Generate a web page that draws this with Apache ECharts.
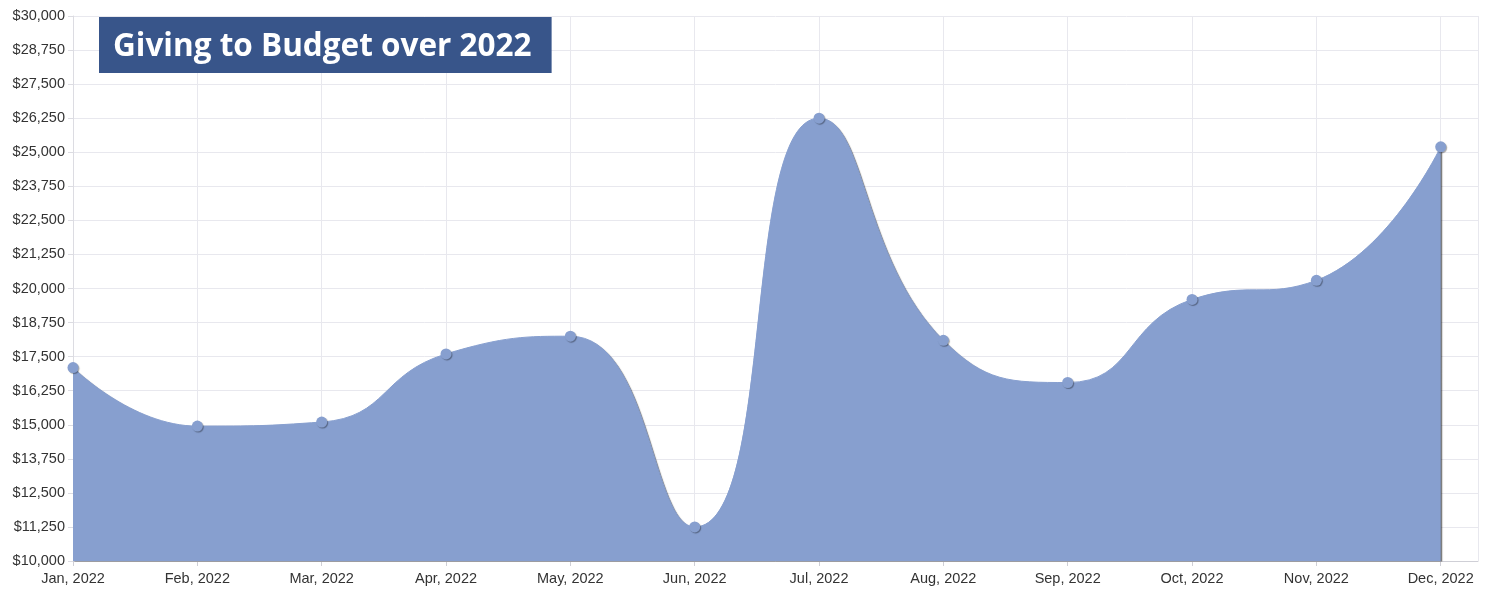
<!DOCTYPE html>
<html>
<head>
	<meta charset="utf-8">
	<title>Giving to Budget over 2022</title>
	<script src="https://cdnjs.cloudflare.com/ajax/libs/echarts/6.0.0/echarts.min.js"></script>
	<style>
		body { margin: 0; background: #fff; }
	</style>
</head>
<body>
	<div id="main" style="width: 1494px;height:590px;"></div>
	<script type="text/javascript">
	var months = ['Jan, 2022', 'Feb, 2022', 'Mar, 2022', 'Apr, 2022', 'May, 2022', 'Jun, 2022',
		'Jul, 2022', 'Aug, 2022', 'Sep, 2022', 'Oct, 2022', 'Nov, 2022', 'Dec, 2022'];
	var giving = [17100, 14950, 15100, 17600, 18250, 11250, 26250, 18100, 16550, 19600, 20300, 25200];

	var points = [];
	giving.forEach(function (v, i) {
		points.push([i, v]);
	});

	var myChart = echarts.init(document.getElementById('main'));

	var option = {
		animation: false,
		title: {
			text: 'Giving to Budget over 2022',
			left: 99,
			top: 17,
			backgroundColor: '#38558a',
			padding: [13, 20, 8, 14],
			textStyle: {
				color: '#fff',
				fontFamily: 'Open Sans',
				fontWeight: 'bold',
				fontSize: 31.5,
				lineHeight: 35
			}
		},
		grid: {
			left: 73,
			right: 16,
			top: 16,
			bottom: 29
		},
		xAxis: {
			type: 'value',
			min: 0,
			max: 11.3,
			interval: 1,
			axisLine: { show: true, lineStyle: { color: '#cfcfd6' } },
			axisTick: { show: true, length: 5, lineStyle: { color: '#cfcfd6' } },
			axisLabel: {
				color: '#333',
				fontFamily: 'Arial',
				fontSize: 14.5,
				margin: 10,
				showMaxLabel: false,
				formatter: function (v) {
					return months[v] || '';
				}
			},
			splitLine: { show: true, lineStyle: { color: '#e8e8ee' } }
		},
		yAxis: {
			type: 'value',
			min: 10000,
			max: 30000,
			interval: 1250,
			axisLine: { show: true, lineStyle: { color: '#dcdce2' } },
			axisTick: { show: true, length: 5, lineStyle: { color: '#dcdce2' } },
			axisLabel: {
				color: '#333',
				fontFamily: 'Arial',
				fontSize: 14.5,
				margin: 8,
				formatter: function (v) {
					return '$' + v.toLocaleString('en-US');
				}
			},
			splitLine: { show: true, lineStyle: { color: '#e8e8ee' } }
		},
		series: [{
			type: 'line',
			data: points,
			smooth: 0.5,
			symbol: 'circle',
			symbolSize: 11,
			itemStyle: {
				color: '#879fcf',
				shadowColor: 'rgba(0,0,0,0.35)',
				shadowBlur: 1,
				shadowOffsetX: 1,
				shadowOffsetY: 1
			},
			lineStyle: {
				color: '#879fcf',
				width: 1
			},
			areaStyle: {
				color: '#879fcf',
				opacity: 1,
				shadowColor: 'rgba(0,0,0,0.55)',
				shadowBlur: 1,
				shadowOffsetX: 1.5,
				shadowOffsetY: 1
			}
		}]
	};

	myChart.setOption(option);
	</script>
</body>
</html>
